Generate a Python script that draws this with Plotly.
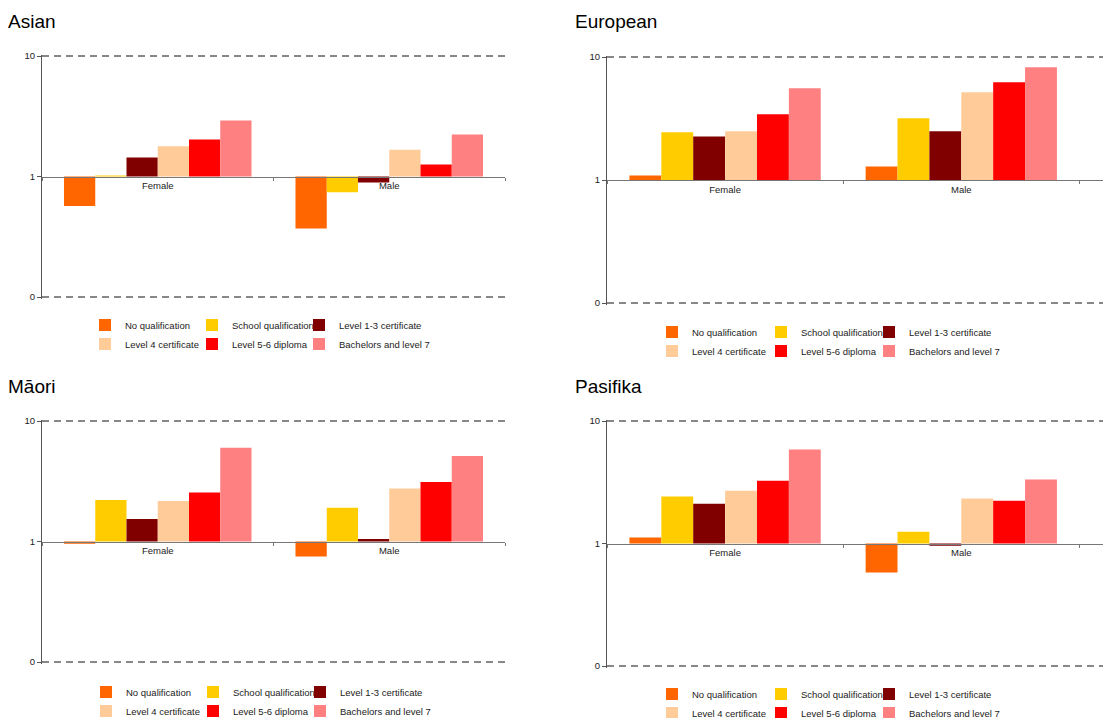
import plotly.graph_objects as go

# ---------------- data ----------------
categories = ["Female", "Male"]
qualifications = [
    "No qualification", "School qualification", "Level 1-3 certificate",
    "Level 4 certificate", "Level 5-6 diploma", "Bachelors and level 7",
]
colors = ["#FF6600", "#FFCC00", "#800000", "#FFCC99", "#FF0000", "#FF8080"]

asian_female = [0.57, 1.01, 1.44, 1.78, 2.03, 2.92]
asian_male = [0.37, 0.74, 0.89, 1.67, 1.26, 2.23]
european_female = [1.09, 2.44, 2.26, 2.49, 3.42, 5.56]
european_male = [1.29, 3.17, 2.49, 5.16, 6.22, 8.24]
maori_female = [0.96, 2.21, 1.54, 2.17, 2.55, 6.01]
maori_male = [0.75, 1.91, 1.05, 2.75, 3.12, 5.13]
pasifika_female = [1.12, 2.42, 2.11, 2.70, 3.26, 5.84]
pasifika_male = [0.58, 1.25, 0.96, 2.33, 2.23, 3.33]

tick_vals = [0.1, 1, 10]
tick_text = ["0", "1", "10"]
grid_vals = [0.1, 10]

# ---------------- layout helpers ----------------
W, H = 1103, 718
FONT = "Liberation Sans, Arial, sans-serif"
PAD = 1.5  # px of extra room so the edge gridlines are not clipped


def px_x(v):
    return v / W


def px_y(v):
    return 1 - v / H


panels = [
    dict(title="Asian", female=asian_female, male=asian_male,
         x0=42, x1=505, xmax=1.5, ytop=56, ybot=297,
         tx=6, ty=22, lx=(125, 232, 339), rows=(325, 344)),
    dict(title="European", female=european_female, male=european_male,
         x0=607, x1=1103, xmax=1.6, ytop=57, ybot=303,
         tx=573, ty=22, lx=(692, 801, 909), rows=(332, 350)),
    dict(title="Māori", female=maori_female, male=maori_male,
         x0=42, x1=505, xmax=1.5, ytop=421, ybot=662,
         tx=6, ty=386, lx=(126, 233, 340), rows=(692, 709)),
    dict(title="Pasifika", female=pasifika_female, male=pasifika_male,
         x0=607, x1=1103, xmax=1.6, ytop=421, ybot=666,
         tx=573, ty=386, lx=(692, 801, 909), rows=(694, 712)),
]

fig = go.Figure()
layout = dict(
    width=W, height=H,
    margin=dict(l=0, r=0, t=0, b=0, autoexpand=False),
    paper_bgcolor="white", plot_bgcolor="white",
    barmode="group", bargap=0.19, bargroupgap=0,
    font=dict(family=FONT, size=9.5, color="#222"),
    annotations=[], shapes=[],
)

legend_count = 0
for i, p in enumerate(panels, start=1):
    xa = "x" if i == 1 else f"x{i}"
    ya = "y" if i == 1 else f"y{i}"
    # one vertical legend per legend column (2 entries each)
    leg_ids = []
    for c in range(3):
        legend_count += 1
        lid = "legend" if legend_count == 1 else f"legend{legend_count}"
        leg_ids.append(lid)
        layout[lid] = dict(
            orientation="v", x=px_x(p["lx"][c] - 40), xanchor="left",
            y=px_y(p["rows"][0] - 14.5), yanchor="top",
            font=dict(family=FONT, size=9.5, color="#222"),
            bgcolor="rgba(0,0,0,0)", borderwidth=0,
            traceorder="normal", tracegroupgap=0,
        )
    for j, q in enumerate(qualifications):
        vals = [p["female"][j], p["male"][j]]
        fig.add_trace(go.Bar(
            x=categories, y=[v - 1 for v in vals], base=1,
            customdata=vals,
            hovertemplate=q + "<br>%{x}: %{customdata}<extra></extra>",
            name=q, marker=dict(color=colors[j], line=dict(width=0)),
            xaxis=xa, yaxis=ya, legend=leg_ids[j % 3],
            showlegend=True,
        ))
    span = p["ybot"] - p["ytop"]
    ext = PAD / span * 2  # decades added on each side
    ydom = [px_y(p["ybot"] + PAD), px_y(p["ytop"] - PAD)]
    layout["xaxis" if i == 1 else f"xaxis{i}"] = dict(
        domain=[px_x(p["x0"]), px_x(p["x1"])],
        anchor="free", position=(ydom[0] + ydom[1]) / 2,
        range=[-0.5, p["xmax"]], type="category",
        showline=True, linecolor="#777", linewidth=1.2,
        ticks="outside", tickson="boundaries", ticklen=3, tickcolor="#777",
        showgrid=False, zeroline=False,
        tickfont=dict(family=FONT, size=9.5, color="#222"),
        fixedrange=True,
    )
    layout["yaxis" if i == 1 else f"yaxis{i}"] = dict(
        domain=ydom, anchor=xa, type="log", range=[-1 - ext, 1 + ext],
        tickvals=tick_vals, ticktext=tick_text,
        showline=True, linecolor="#555", linewidth=1.2,
        ticks="outside", ticklen=4, tickcolor="#555",
        showgrid=False, zeroline=False,
        tickfont=dict(family=FONT, size=9.5, color="#222"),
        fixedrange=True,
    )
    for gv in grid_vals:
        layout["shapes"].append(dict(
            type="line", xref=f"{xa} domain", yref=ya,
            x0=0, x1=1, y0=gv, y1=gv, layer="below",
            line=dict(color="#111", width=1, dash="7px,5px"),
        ))
    layout["annotations"].append(dict(
        text=p["title"], xref="paper", yref="paper",
        x=px_x(p["tx"]), y=px_y(p["ty"]), xanchor="left", yanchor="middle",
        showarrow=False, font=dict(family=FONT, size=19, color="#000"),
    ))

fig.update_layout(**layout)
fig.write_html("out.html")
